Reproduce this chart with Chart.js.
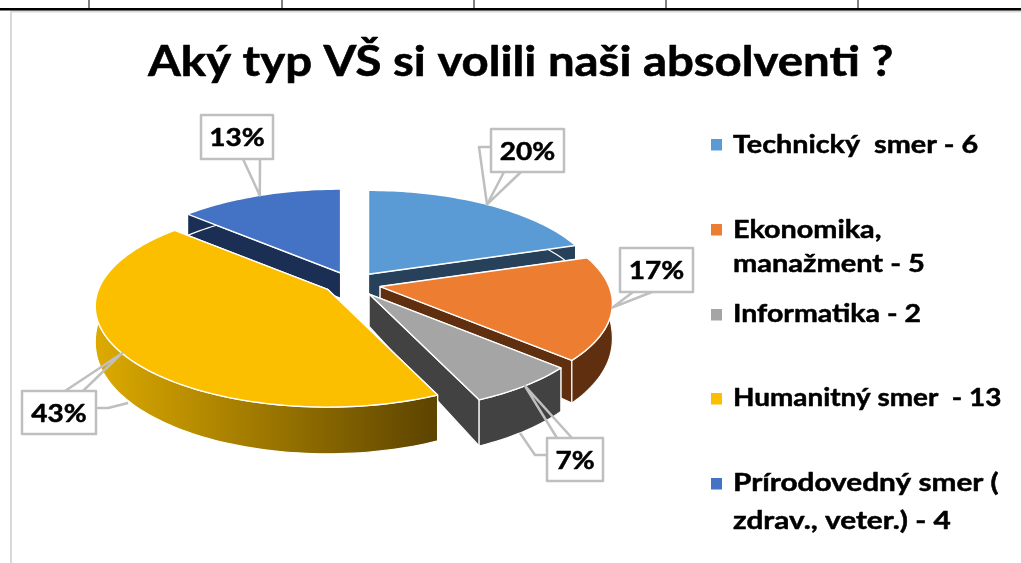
<!DOCTYPE html>
<html><head><meta charset="utf-8">
<style>html,body{margin:0;padding:0;background:#fff}canvas{display:block}</style>
<script src="https://cdn.jsdelivr.net/npm/chart.js@4"></script>
</head><body><canvas id="c" width="1021" height="563"></canvas>
<script>
const titleText = "Aký typ VŠ si volili naši absolventi ?";
const categories = ["Technický  smer", "Ekonomika, manažment", "Informatika", "Humanitný smer", "Prírodovedný smer ( zdrav., veter.)"];
const values = [6, 5, 2, 13, 4];
const legendLines = [["Technický  smer - 6"], ["Ekonomika,", "manažment - 5"], ["Informatika - 2"], ["Humanitný smer  - 13"], ["Prírodovedný smer (", "zdrav., veter.) - 4"]];
const topColors = ["#5B9BD5", "#ED7D31", "#A5A5A5", "#FBBF00", "#4472C4"];
const wallColors = ["#264159", "#5F2F10", "#424242", null, "#1B2E54"];

// layout only (not data)
const paintOrder = [4, 0, 1, 2, 3];
const P = {b: 229, a: 98, e: 0.168, explode: 12.5};
const sliceNudge = [[0,0],[0,0],[0,0],[-1,-2],[0,0]];
const legendRows = [{y:145,ly:[145],sx:[1.15]},{y:230,ly:[230,264],sx:[1.15,1.16]},{y:315,ly:[314],sx:[1.14]},{y:399,ly:[398],sx:[1.115]},{y:484,ly:[483,521],sx:[1.19,1.19]}];
const boxes = [
 {x:491,y:129,w:73,h:43,wedge:[[504,172],[521,172]],leader:[[491,147],[479,147]]},
 {x:620,y:248,w:73,h:44,wedge:[[633,292],[652,292]]},
 {x:547,y:438,w:56,h:43,wedge:[[557,438],[572,438]],leader:[[547,455],[535,455],[520,433]]},
 {x:22,y:391,w:74,h:43,wedge:[[65,391],[83,391]],leader:[[96,408],[108,408],[128,403]]},
 {x:201,y:115,w:72,h:44,wedge:[[243,159],[260,159]]}
];
const FONT = "Lato";

function proj(u, v){ const w = 1/(1 - P.e*v); return [P.b*u*w, P.a*v*w]; }
function depth(v){ return v > 0 ? 26 + 20*Math.sqrt(v) : 26 + 6*v; }

function slicePts(arc, idx){
  const d = (arc.options.offset||0)/100;
  const mid = (arc.startAngle + arc.endAngle)/2;
  const ox = d*Math.cos(mid), oy = d*Math.sin(mid);
  const off = proj(ox, oy), nudge = sliceNudge[idx];
  const at = (a, r) => {
    const u = r*Math.cos(a), v = r*Math.sin(a), p = proj(u, v);
    return {x: arc.x + off[0] + p[0] + nudge[0], y: arc.y + off[1] + p[1] + nudge[1], v: v + oy};
  };
  const rim = [];
  const n = Math.max(8, Math.ceil((arc.endAngle-arc.startAngle)*40));
  for(let i=0;i<=n;i++) rim.push(at(arc.startAngle + (arc.endAngle-arc.startAngle)*i/n, 1));
  return {apex: at(0,0), rim, tip: at(mid,1)};
}
function poly(ctx, pts){ ctx.beginPath(); pts.forEach((p,i)=> i?ctx.lineTo(p.x,p.y):ctx.moveTo(p.x,p.y)); ctx.closePath(); }
function down(p){ return {x:p.x, y:p.y + depth(p.v)}; }
function wideText(ctx, s, x, y, sx, heavy){
  ctx.save(); ctx.translate(x,y); ctx.scale(sx,1);
  ctx.fillText(s,0,0);
  ctx.strokeStyle='#000'; ctx.lineWidth=heavy; ctx.lineJoin='round'; ctx.strokeText(s,0,0);
  ctx.restore();
}

const pie3d = {
  id:'pie3d',
  beforeDraw(chart){
    const ctx = chart.ctx;
    ctx.save();
    ctx.fillStyle='#fff'; ctx.fillRect(0,0,1021,563);
    ctx.fillStyle='#d9d9d9'; ctx.fillRect(10,10,1011,2.5); ctx.fillRect(10,10,2,553);
    ctx.fillStyle='#000'; ctx.fillRect(0,8,1021,2.5);
    [89,282,474,666,858].forEach(x=>ctx.fillRect(x-0.5,0,1,9));
    ctx.restore();
  },
  beforeDatasetDraw(chart, args){
    const ctx = chart.ctx, arcs = chart.getDatasetMeta(args.index).data;
    const geo = arcs.map(slicePts);
    ctx.save();
    ctx.lineJoin='round';
    paintOrder.forEach(i=>{
      const g = geo[i], first = g.rim[0], last = g.rim[g.rim.length-1];
      let wall = wallColors[i];
      if(!wall){
        wall = ctx.createLinearGradient(100,0,432,0);
        wall.addColorStop(0,'#DBA900'); wall.addColorStop(1,'#5E4500');
      }
      ctx.fillStyle = wall; ctx.strokeStyle='#fff'; ctx.lineWidth=1.2;
      [first,last].forEach(p=>{
        poly(ctx,[g.apex,p,down(p),down(g.apex)]); ctx.fill(); ctx.stroke();
      });
      const outer = g.rim.concat(g.rim.slice().reverse().map(down));
      poly(ctx,outer); ctx.fill(); ctx.stroke();
      poly(ctx,[g.apex].concat(g.rim));
      ctx.fillStyle = arcs[i].options.backgroundColor; ctx.fill();
      ctx.lineWidth=1.4; ctx.stroke();
    });
    ctx.strokeStyle='#BFBFBF'; ctx.lineWidth=2.5;
    const total = values.reduce((a,b)=>a+b,0);
    boxes.forEach((b,i)=>{
      const t = geo[i].tip;
      ctx.beginPath();
      ctx.moveTo(b.wedge[0][0],b.wedge[0][1]); ctx.lineTo(t.x,t.y); ctx.lineTo(b.wedge[1][0],b.wedge[1][1]); ctx.stroke();
      if(b.leader){
        ctx.beginPath(); b.leader.forEach((p,k)=>k?ctx.lineTo(p[0],p[1]):ctx.moveTo(p[0],p[1]));
        if(i===0) ctx.lineTo(t.x,t.y);
        ctx.stroke();
      }
      ctx.fillStyle='#fff'; ctx.fillRect(b.x,b.y,b.w,b.h); ctx.strokeRect(b.x,b.y,b.w,b.h);
      ctx.fillStyle='#000'; ctx.font='bold 25px '+FONT; ctx.textAlign='center'; ctx.textBaseline='middle';
      wideText(ctx, Math.round(values[i]/total*100)+'%', b.x+b.w/2, b.y+b.h/2+1, 1.12, 0.5);
    });
    ctx.restore();
    return false;
  },
  afterDraw(chart){
    const ctx = chart.ctx;
    ctx.save();
    ctx.fillStyle='#000'; ctx.textBaseline='middle'; ctx.textAlign='left';
    ctx.font='bold 42px '+FONT;
    wideText(ctx, titleText, 148, 62, 1.127, 0.6);
    ctx.font='bold 25px '+FONT;
    legendRows.forEach((r,i)=>{
      ctx.fillStyle=topColors[i]; ctx.fillRect(711,r.y-6,11,11.5);
      ctx.fillStyle='#000';
      legendLines[i].forEach((s,k)=>wideText(ctx,s,733,r.ly[k],r.sx[k],0.5));
    });
    ctx.restore();
  }
};

new Chart(document.getElementById('c'),{
  type:'pie',
  data:{labels:categories,datasets:[{data:values,backgroundColor:topColors,offset:P.explode,borderWidth:0}]},
  options:{
    responsive:false,animation:false,
    layout:{padding:{left:0,right:317,top:5,bottom:0}},
    plugins:{legend:{display:false},title:{display:false},tooltip:{enabled:false}}
  },
  plugins:[pie3d]
});
</script></body></html>
